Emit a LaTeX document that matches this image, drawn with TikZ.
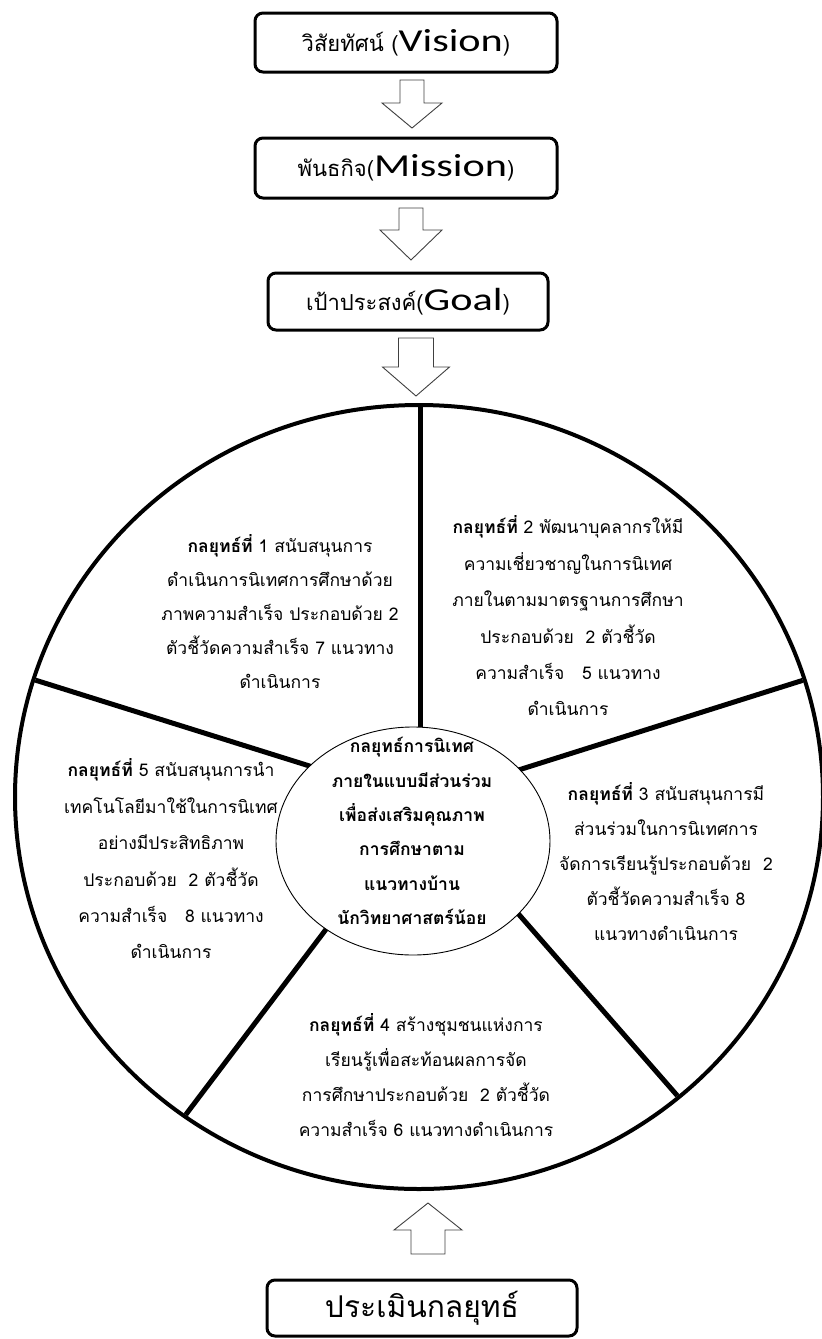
\documentclass[tikz,border=0pt]{standalone}
\usepackage{fontspec}
\usetikzlibrary{calc}
\newfontfamily\thai[Script=Thai]{Loma}
\newfontfamily\latwide[FakeStretch=1.32]{Carlito}
\newcommand{\thsize}[1]{\thai\fontsize{#1}{#1}\selectfont}
\tikzset{
  topbox/.style={draw, line width=3pt, rounded corners=8pt, inner sep=0pt, fill=white},
  blockarrow/.style={draw=black!75, line width=0.9pt, fill=white, line join=miter},
  spoke/.style={line width=5pt},
  segtext/.style={align=center, inner sep=0pt},
}
\begin{document}
\begin{tikzpicture}[x=1pt,y=-1pt]
\useasboundingbox (0,0) rectangle (822,1339);

% top boxes
\node[topbox, minimum width=302pt, minimum height=59pt] (vision) at (406,42.5)
  {{\thsize{22}วิสัยทัศน์ (}{\latwide\fontsize{32}{32}\selectfont Vision}{\thsize{22})}};
\node[topbox, minimum width=302pt, minimum height=60pt] (mission) at (406,168)
  {{\thsize{22}พันธกิจ(}{\latwide\fontsize{32}{32}\selectfont Mission}{\thsize{22})}};
\node[topbox, minimum width=280pt, minimum height=57pt] (goal) at (408,301.5)
  {{\thsize{22}เป้าประสงค์(}{\latwide\fontsize{32}{32}\selectfont Goal}{\thsize{22})}};

% block arrows down
\draw[blockarrow] (400,80) -- (424,80) -- (424,103) -- (442,103) -- (412,128) -- (382,103) -- (400,103) -- cycle;
\draw[blockarrow] (399,208) -- (423,208) -- (423,230) -- (442,230) -- (411,260) -- (380,230) -- (399,230) -- cycle;
\draw[blockarrow] (398.5,338) -- (433.5,338) -- (433.5,367) -- (449.5,367) -- (416,396) -- (382.5,367) -- (398.5,367) -- cycle;

% big circle
\coordinate (bigc) at (419,797);
\coordinate (smallc) at (413,841);
\draw[line width=4pt] (bigc) ellipse [x radius=404, y radius=392];

% spokes (clipped to the big circle)
\coordinate (i1) at (420,728); \coordinate (o1) at (420,405);
\coordinate (i2) at (528,767); \coordinate (o2) at (807,679);
\coordinate (i3) at (515,910); \coordinate (o3) at (668,1085);
\coordinate (i4) at (327,928); \coordinate (o4) at (187,1113);
\coordinate (i5) at (300,763); \coordinate (o5) at (35,680);
\begin{scope}
\clip (bigc) ellipse [x radius=402, y radius=390];
\foreach \k in {1,...,5}{
  \draw[spoke] ($(o\k)!-0.15!(i\k)$) -- ($(i\k)!-0.1!(o\k)$);
}
\end{scope}

% small circle
\draw[line width=0.9pt, fill=white] (smallc) ellipse [x radius=137, y radius=114];

% texts
\node[segtext, font=\thai\fontsize{17.5}{34}\selectfont] (s1) at (280,612)
  {{\bfseries กลยุทธ์ที่} 1 สนับสนุนการ\\ดำเนินการนิเทศการศึกษาด้วย\\ภาพความสำเร็จ ประกอบด้วย 2\\ตัวชี้วัดความสำเร็จ 7 แนวทาง\\ดำเนินการ};
\node[segtext, font=\thai\fontsize{17.5}{36.4}\selectfont] (s2) at (568,616)
  {{\bfseries กลยุทธ์ที่} 2 พัฒนาบุคลากรให้มี\\ความเชี่ยวชาญในการนิเทศ\\ภายในตามมาตรฐานการศึกษา\\ประกอบด้วย\ \ 2 ตัวชี้วัด\\ความสำเร็จ\ \ \ 5 แนวทาง\\ดำเนินการ};
\node[segtext, font=\thai\fontsize{17.5}{35}\selectfont] (s3) at (666,862)
  {{\bfseries กลยุทธ์ที่} 3 สนับสนุนการมี\\ส่วนร่วมในการนิเทศการ\\จัดการเรียนรู้ประกอบด้วย\ \ 2\\ตัวชี้วัดความสำเร็จ 8\\แนวทางดำเนินการ};
\node[segtext, font=\thai\fontsize{17.5}{35}\selectfont] (s4) at (426,1075)
  {{\bfseries กลยุทธ์ที่} 4 สร้างชุมชนแห่งการ\\เรียนรู้เพื่อสะท้อนผลการจัด\\การศึกษาประกอบด้วย\ \ 2 ตัวชี้วัด\\ความสำเร็จ 6 แนวทางดำเนินการ};
\node[segtext, font=\thai\fontsize{17.5}{36.4}\selectfont] (s5) at (171,859)
  {{\bfseries กลยุทธ์ที่} 5 สนับสนุนการนำ\\เทคโนโลยีมาใช้ในการนิเทศ\\อย่างมีประสิทธิภาพ\\ประกอบด้วย\ \ 2 ตัวชี้วัด\\ความสำเร็จ\ \ \ 8 แนวทาง\\ดำเนินการ};
\node[segtext, font=\thai\bfseries\fontsize{17.5}{34.4}\selectfont] (center) at (412,831)
  {กลยุทธ์การนิเทศ\\ภายในแบบมีส่วนร่วม\\เพื่อส่งเสริมคุณภาพ\\การศึกษาตาม\\แนวทางบ้าน\\นักวิทยาศาสตร์น้อย};

% up arrow and bottom box
\draw[blockarrow] (411,1254) -- (445,1254) -- (445,1230) -- (462,1230) -- (428,1203) -- (394,1230) -- (411,1230) -- cycle;
\node[topbox, minimum width=310pt, minimum height=56pt] (eval) at (422,1308)
  {\thsize{30}ประเมินกลยุทธ์};
\end{tikzpicture}
\end{document}
